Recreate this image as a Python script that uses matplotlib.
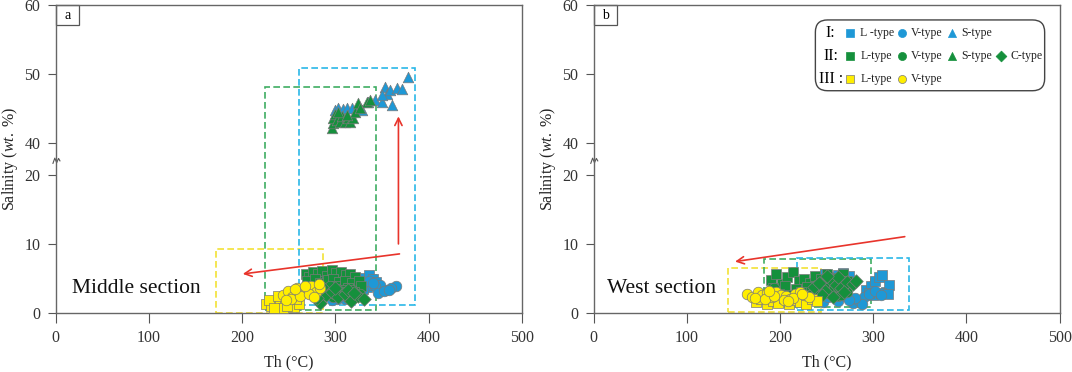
import numpy as np
import matplotlib
matplotlib.use("Agg")
import matplotlib.pyplot as plt
from matplotlib.patches import Rectangle, FancyBboxPatch

plt.rcParams['font.family'] = ['Liberation Serif', 'DejaVu Serif']
plt.rcParams['mathtext.fontset'] = 'custom'
plt.rcParams['mathtext.rm'] = 'Liberation Serif'
plt.rcParams['mathtext.it'] = 'Liberation Serif:italic'

BLUE = '#1E98D6'
GREEN = '#15903C'
YELLOW = '#FFEE00'
EDGE = '#7a7a7a'
RED = '#E8342B'

# ---------------- data: panel a (middle section) ----------------
a_I_L_x = [328, 332, 336, 340, 344, 334, 330, 338]
a_I_L_y = [4.4, 5.1, 5.5, 4.9, 4.5, 3.8, 3.5, 4.1]
a_I_V_x = [365, 360, 354, 348, 343, 336, 346, 352, 358, 325, 318, 310, 302, 296, 330, 340]
a_I_V_y = [3.9, 3.6, 3.4, 4.1, 3.9, 4.6, 2.9, 3.2, 3.3, 2.9, 2.3, 2.1, 2.0, 1.9, 3.3, 4.3]
a_I_S_x = [299.7, 303.2, 308.6, 312.2, 317.6, 324.7, 328.3, 335.4, 342.6, 349.8, 353.3,
           355.2, 358.7, 360.5, 365.9, 371.2, 378.4, 349.8]
a_I_S_y = [44.8, 45.1, 45.0, 45.1, 45.1, 45.3, 44.8, 46.0, 46.3, 46.0, 48.2,
           47.2, 47.7, 45.6, 48.0, 47.9, 49.6, 47.0]

a_II_L_x = [268, 272, 276, 281, 286, 291, 296, 301, 306, 311, 316, 321, 270, 278, 284, 292, 298,
            304, 310, 318, 325, 274, 288, 300, 314, 328, 282, 296, 308, 320]
a_II_L_y = [5.6, 5.2, 6.0, 5.7, 6.1, 5.4, 6.2, 5.8, 5.9, 5.5, 5.7, 5.2, 4.6, 4.9, 4.3, 4.8, 5.0,
            4.5, 4.7, 4.4, 4.6, 3.8, 3.6, 4.0, 3.7, 3.9, 3.2, 3.1, 3.4, 3.0]
a_II_V_x = [280, 288, 294, 302, 310, 318, 326, 285, 298, 314]
a_II_V_y = [3.6, 3.2, 4.0, 3.5, 3.0, 3.3, 2.8, 2.6, 2.4, 2.2]
a_II_S_x = [296.1, 297.2, 297.9, 299.7, 301.5, 305.0, 306.9, 310.4, 314.0, 315.8, 319.3,
            321.1, 324.7, 326.5, 333.7, 337.2, 303.2, 312.2]
a_II_S_y = [42.2, 42.9, 43.6, 44.3, 43.4, 43.1, 43.9, 43.1, 43.6, 43.1, 43.6,
            44.6, 45.8, 45.1, 46.0, 46.3, 44.6, 44.1]
a_II_C_x = [272, 278, 284, 290, 296, 303, 310, 317, 324, 331, 286, 300, 314, 280, 320]
a_II_C_y = [3.4, 2.9, 1.5, 2.6, 3.1, 2.4, 2.8, 1.7, 2.5, 2.0, 3.8, 3.6, 3.3, 2.2, 2.9]

a_III_L_x = [226, 231, 236, 241, 246, 251, 256, 261, 229, 238, 244, 253, 234, 248, 258]
a_III_L_y = [1.4, 1.0, 1.8, 1.2, 2.0, 1.5, 0.9, 1.3, 1.9, 2.5, 0.8, 2.3, 0.7, 1.0, 2.0]
a_III_V_x = [244, 249, 254, 259, 264, 269, 274, 279, 284, 252, 262, 272, 282, 257, 267, 277, 247]
a_III_V_y = [2.6, 3.2, 2.3, 3.6, 2.9, 3.3, 3.9, 3.1, 3.7, 2.0, 2.5, 2.8, 4.2, 3.5, 4.0, 2.4, 1.9]

# ---------------- data: panel b (west section) ----------------
b_I_L_x = [248, 254, 262, 268, 274, 292, 298, 302, 306, 310, 314, 317, 300, 308, 296, 316]
b_I_L_y = [5.6, 5.2, 5.5, 5.8, 5.3, 3.4, 4.0, 4.6, 5.2, 5.5, 3.0, 4.1, 2.6, 2.9, 2.9, 2.8]
b_I_V_x = [246, 252, 262, 270, 278, 284, 290, 296, 302, 288, 280, 274, 308]
b_I_V_y = [1.6, 2.3, 1.8, 2.5, 1.5, 1.9, 2.4, 2.8, 3.2, 1.4, 2.2, 1.9, 2.6]

b_II_L_x = [190, 196, 202, 208, 214, 220, 226, 232, 238, 244, 250, 256, 262, 268, 272, 193, 205,
            217, 229, 241, 253, 265, 199, 211, 223, 235, 247, 259]
b_II_L_y = [4.8, 5.6, 4.2, 5.2, 5.9, 4.6, 5.0, 4.3, 5.4, 4.9, 5.7, 4.4, 5.1, 5.6, 4.7, 3.6, 3.9,
            3.5, 3.8, 3.2, 3.6, 3.4, 2.8, 2.6, 3.0, 2.7, 2.9, 2.5]
b_II_V_x = [188, 194, 232, 240, 250, 258, 266, 272]
b_II_V_y = [3.2, 3.6, 2.7, 3.4, 2.9, 3.8, 2.7, 3.1]
b_II_C_x = [236, 242, 248, 254, 260, 266, 272, 278, 282, 245, 257, 269, 262, 251]
b_II_C_y = [3.8, 4.4, 3.2, 4.9, 4.1, 3.6, 4.5, 4.2, 4.6, 2.6, 2.4, 3.0, 5.2, 5.4]

b_III_L_x = [174, 180, 186, 192, 198, 204, 210, 216, 222, 228, 234, 240]
b_III_L_y = [1.6, 2.0, 1.4, 1.8, 1.5, 2.2, 1.3, 1.9, 1.6, 1.4, 2.0, 1.7]
b_III_V_x = [165, 170, 176, 181, 186, 191, 196, 201, 206, 211, 216, 221, 226, 231, 173, 184,
             194, 204, 214, 224, 188, 209]
b_III_V_y = [2.8, 2.4, 3.0, 2.6, 2.9, 2.3, 3.1, 2.7, 2.5, 2.1, 2.8, 3.0, 2.6, 2.4, 2.2, 2.0,
             2.5, 1.9, 2.2, 2.8, 3.2, 1.7]

# dashed boxes (x0, x1, y0, y1)
a_boxes = [((172, 287, 0.05, 9.3), '#F2E236'), ((225, 344, 0.5, 48.2), '#3EAD62'),
           ((261, 386, 1.2, 50.9), '#2AB8E8')]
b_boxes = [((144.5, 244, 0.2, 6.5), '#F2E236'), ((182.8, 297.4, 0.95, 7.8), '#3EAD62'),
           ((218, 338.6, 0.5, 8.0), '#2AB8E8')]

# arrows (tail, head)
a_arrows = [((367.7, 10.0), (367.7, 43.9)), ((368.8, 8.56), (200.7, 5.67))]
b_arrows = [((333.9, 11.05), (151.8, 7.45))]

xticks = [0, 100, 200, 300, 400, 500]
yticks = [0, 10, 20, 40, 50, 60]

GAP = 4.5  # compressed height for 20-40


def fwd(y):
    y = np.asarray(y, dtype=float)
    return np.where(y <= 20, y, np.where(y >= 40, y - 40 + 20 + GAP, 20 + (y - 20) * GAP / 20))


def inv(u):
    u = np.asarray(u, dtype=float)
    return np.where(u <= 20, u, np.where(u >= 20 + GAP, u - GAP - 20 + 40, 20 + (u - 20) * 20 / GAP))


def setup_axes(ax, letter, ylab_x):
    ax.set_yscale('function', functions=(fwd, inv))
    ax.set_xlim(0, 500)
    ax.set_ylim(0, 60)
    ax.set_xticks(xticks)
    ax.set_yticks(yticks)
    ax.set_yticklabels([str(t) for t in yticks])
    ax.minorticks_off()
    ax.tick_params(axis='both', direction='out', labelsize=11.5, colors='#333333', pad=5)
    ax.tick_params(axis='x', length=7, color='#555555')
    ax.tick_params(axis='y', length=6, color='#555555')
    for s in ax.spines.values():
        s.set_color('#666666')
        s.set_linewidth(1.0)
    ax.set_xlabel('Th (°C)', fontsize=11.5, color='#222222')
    ax.set_ylabel('Salinity ($\\it{wt.}$ %)', fontsize=11.5, color='#222222')
    ax.xaxis.set_label_coords(0.5, -0.132)
    ax.yaxis.set_label_coords(ylab_x, 0.5)
    # panel letter box
    ax.add_patch(Rectangle((0, 0.935), 0.05, 0.065, transform=ax.transAxes, fill=False,
                           ec='#555555', lw=0.9, clip_on=False))
    ax.text(0.025, 0.966, letter, transform=ax.transAxes, ha='center', va='center', fontsize=10)
    # axis break mark
    ax.plot([-0.006, -0.002, 0.002, 0.006, 0.009], [0.486, 0.503, 0.488, 0.502, 0.494],
            transform=ax.transAxes, clip_on=False, color='#555555', lw=0.8)


def pts(ax, x, y, marker, color, s=58):
    ax.scatter(x, y, marker=marker, s=s, c=color, edgecolors=EDGE, linewidths=0.5, zorder=3)


def boxes(ax, items):
    for (x0, x1, y0, y1), col in items:
        ax.add_patch(Rectangle((x0, y0), x1 - x0, y1 - y0, fill=False, ec=col, lw=1.2,
                               ls=(0, (4, 2)), zorder=2))


def arrows(ax, items):
    for tail, head in items:
        ax.annotate('', xy=head, xytext=tail,
                    arrowprops=dict(arrowstyle='->', color=RED, lw=1.2, shrinkA=0, shrinkB=0,
                                    mutation_scale=13), zorder=4)


fig = plt.figure(figsize=(10.72, 3.72), dpi=100)
ax1 = fig.add_axes([0.052, 0.158, 0.4347, 0.829])
ax2 = fig.add_axes([0.5537, 0.158, 0.4347, 0.829])

setup_axes(ax1, 'a', -0.077)
setup_axes(ax2, 'b', -0.077)

# panel a
boxes(ax1, a_boxes)
pts(ax1, a_I_L_x, a_I_L_y, 's', BLUE)
pts(ax1, a_I_V_x, a_I_V_y, 'o', BLUE)
pts(ax1, a_I_S_x, a_I_S_y, '^', BLUE)
pts(ax1, a_II_L_x, a_II_L_y, 's', GREEN)
pts(ax1, a_II_V_x, a_II_V_y, 'o', GREEN)
pts(ax1, a_II_C_x, a_II_C_y, 'D', GREEN, s=48)
pts(ax1, a_II_S_x, a_II_S_y, '^', GREEN)
pts(ax1, a_III_L_x, a_III_L_y, 's', YELLOW)
pts(ax1, a_III_V_x, a_III_V_y, 'o', YELLOW)
arrows(ax1, a_arrows)
ax1.text(17, 3.6, 'Middle section', fontsize=15.5, ha='left', va='center', color='#111111')

# panel b
boxes(ax2, b_boxes)
pts(ax2, b_I_L_x, b_I_L_y, 's', BLUE)
pts(ax2, b_I_V_x, b_I_V_y, 'o', BLUE)
pts(ax2, b_II_L_x, b_II_L_y, 's', GREEN)
pts(ax2, b_II_V_x, b_II_V_y, 'o', GREEN)
pts(ax2, b_II_C_x, b_II_C_y, 'D', GREEN, s=48)
pts(ax2, b_III_L_x, b_III_L_y, 's', YELLOW)
pts(ax2, b_III_V_x, b_III_V_y, 'o', YELLOW)
arrows(ax2, b_arrows)
ax2.text(14.5, 3.6, 'West section', fontsize=15.5, ha='left', va='center', color='#111111')

# custom legend in panel b
ax2.add_patch(FancyBboxPatch((0.476, 0.7215), 0.492, 0.2295, transform=ax2.transAxes,
                             boxstyle='round,pad=0,rounding_size=0.026', mutation_aspect=1.51,
                             fill=False, ec='#444444', lw=1.0, clip_on=False))
rows = [
    ('I:', [('s', BLUE, 'L -type'), ('o', BLUE, 'V-type'), ('^', BLUE, 'S-type')]),
    ('II:', [('s', GREEN, 'L-type'), ('o', GREEN, 'V-type'), ('^', GREEN, 'S-type'),
             ('D', GREEN, 'C-type')]),
    ('III :', [('s', YELLOW, 'L-type'), ('o', YELLOW, 'V-type')]),
]
row_y = [0.910, 0.834, 0.760]
mk_x = [0.550, 0.661, 0.770, 0.875]
txt_dx = [0.022, 0.019, 0.019, 0.019]
for (label, entries), yy in zip(rows, row_y):
    ax2.text(0.509, yy, label, transform=ax2.transAxes, ha='center', va='center', fontsize=11.5)
    for (m, col, name), xx, dx in zip(entries, mk_x, txt_dx):
        ax2.scatter([xx], [yy], marker=m, s=34 if m != 'D' else 30, c=col,
                    edgecolors=EDGE if col == YELLOW else col, linewidths=0.5,
                    transform=ax2.transAxes, clip_on=False, zorder=5)
        ax2.text(xx + dx, yy, name, transform=ax2.transAxes, ha='left', va='center',
                 fontsize=8.5, color='#222222')

fig.savefig('out.png', dpi=100)
